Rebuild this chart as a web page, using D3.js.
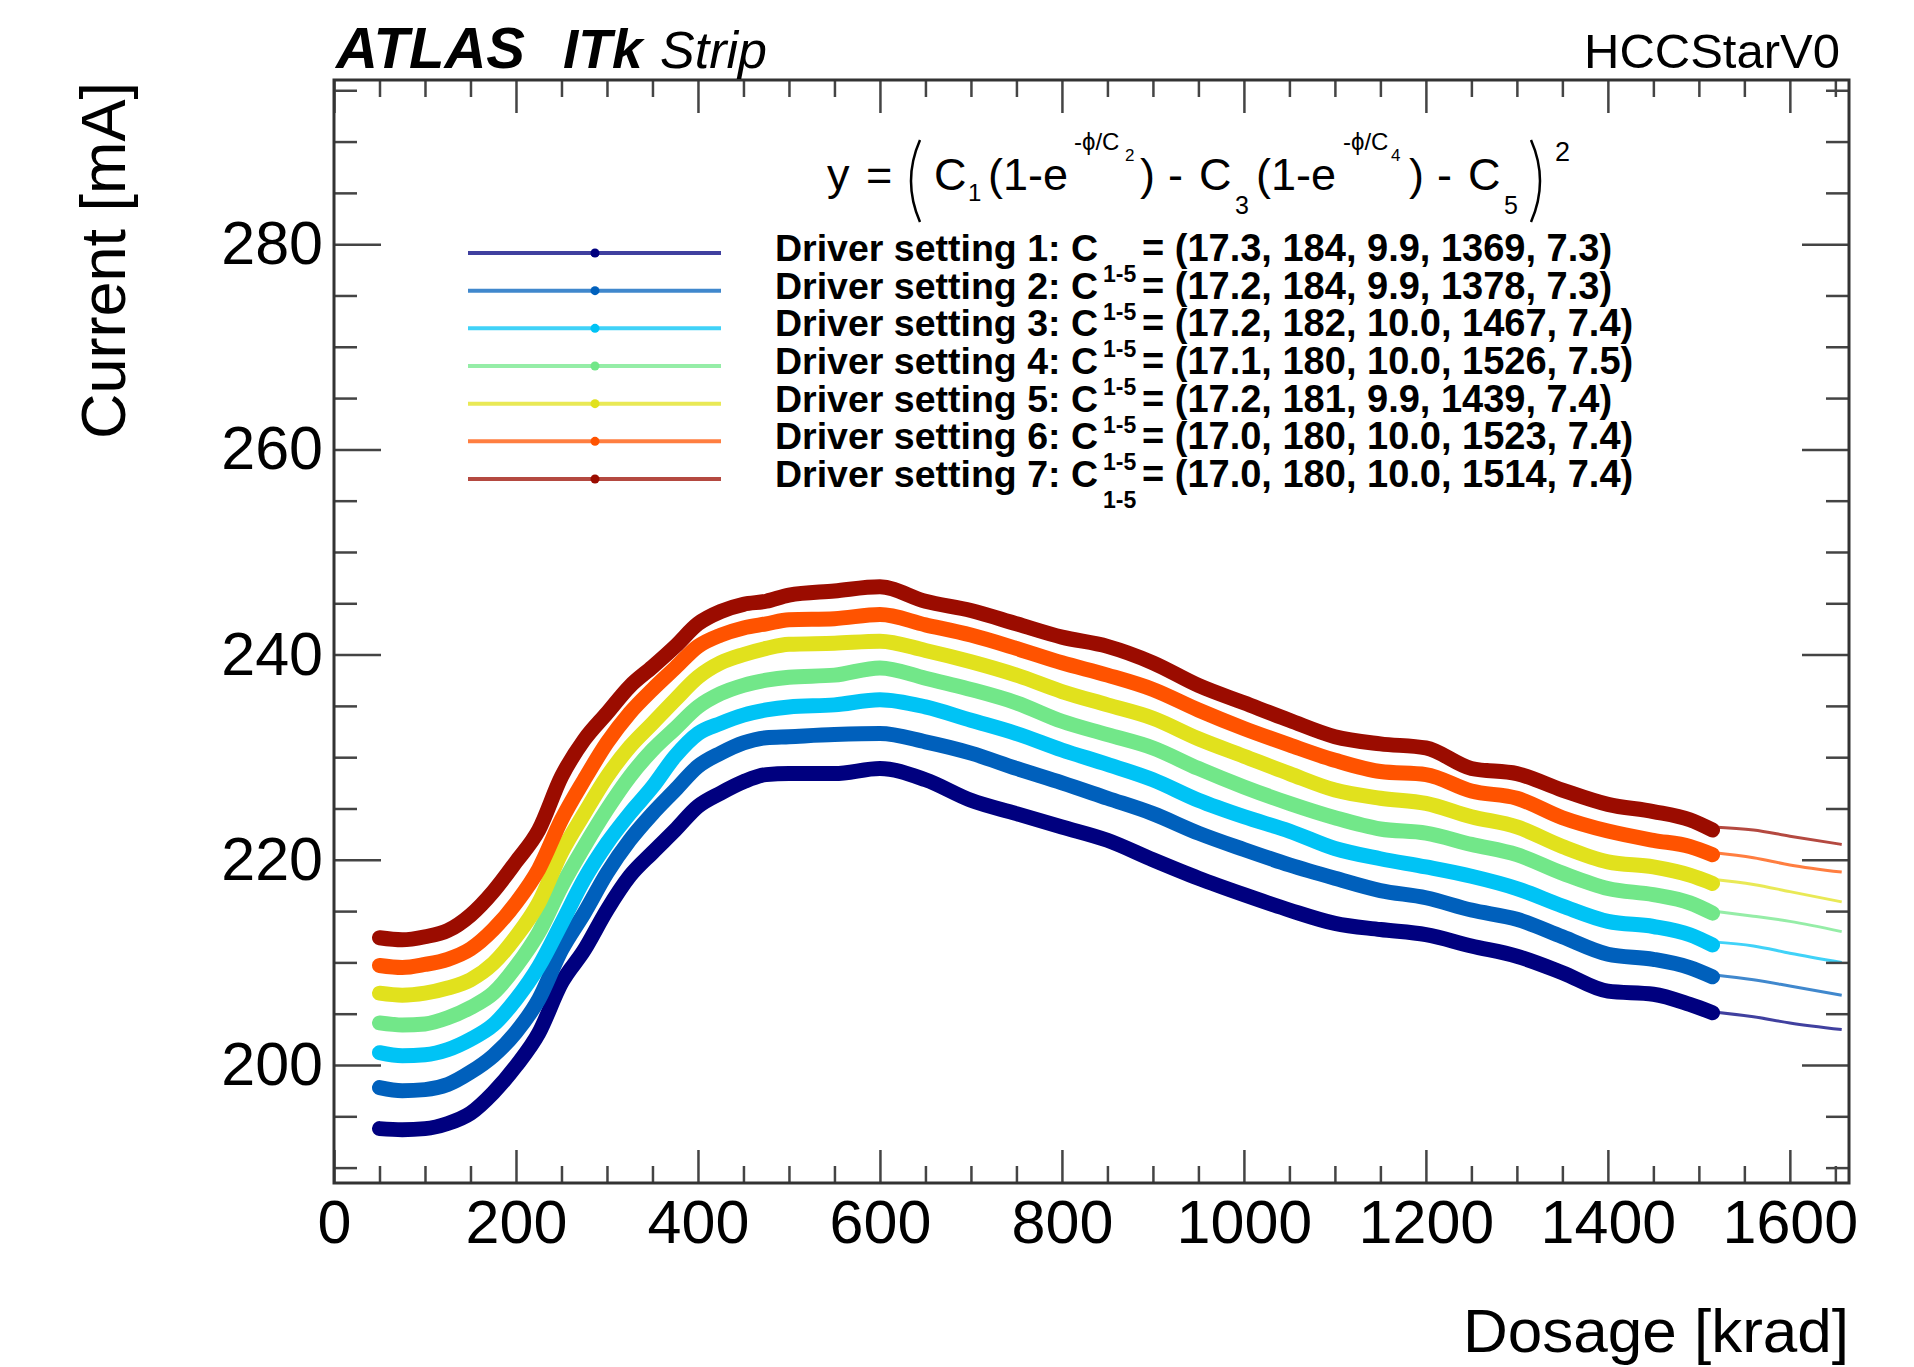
<!DOCTYPE html>
<html>
<head>
<meta charset="utf-8">
<script src="https://cdn.jsdelivr.net/npm/d3@7"></script>
<style>
    body { margin: 0; background: #fff; }
    text { font-family: "Liberation Sans", Arial, Helvetica, sans-serif; }
</style>
</head>
<body>
<div id="chart"></div>
<script>
const dose = [50, 75, 100, 125, 150, 175, 200, 225, 250, 275, 300, 325, 350, 375, 400, 425, 450, 475, 500,
    550, 600, 650, 700, 750, 800, 850, 900, 950, 1000, 1050, 1100, 1150, 1200, 1250, 1300, 1350, 1400, 1450,
    1490, 1515];

// Measured current [mA], one array per driver setting
const current1 = [193.8, 193.7, 193.8, 194.3, 195.3, 197.3, 199.9, 203.1, 208.0, 211.2, 215.1, 218.4, 220.7, 222.9, 225.2, 226.5, 227.6, 228.3, 228.4,
    228.4, 228.9, 227.8, 225.8, 224.5, 223.2, 221.9, 220.0, 218.2, 216.6, 215.1, 213.8, 213.2, 212.7, 211.6, 210.6, 209.0, 207.2, 206.9, 205.9, 205.1];
const current2 = [197.8, 197.5, 197.6, 198.1, 199.3, 200.9, 203.2, 206.4, 211.2, 214.8, 218.7, 221.9, 224.5, 226.8, 229.1, 230.4, 231.4, 231.9, 232.0,
    232.2, 232.3, 231.5, 230.4, 228.9, 227.5, 226.0, 224.5, 222.6, 221.0, 219.5, 218.2, 217.0, 216.3, 215.1, 214.2, 212.5, 210.8, 210.3, 209.5, 208.6];
const current3 = [201.2, 200.9, 201.0, 201.5, 202.5, 203.9, 206.4, 209.6, 213.8, 218.1, 221.6, 224.5, 227.1, 230.1, 232.3, 233.3, 234.1, 234.6, 234.9,
    235.1, 235.6, 234.9, 233.6, 232.3, 230.7, 229.3, 227.8, 225.8, 224.2, 222.8, 221.1, 220.1, 219.3, 218.4, 217.2, 215.5, 214.0, 213.5, 212.7, 211.7];
const current4 = [204.1, 203.9, 204.0, 204.6, 205.6, 207.0, 209.6, 212.9, 217.4, 221.3, 224.9, 228.1, 230.7, 232.8, 234.9, 236.2, 237.0, 237.5, 237.8,
    238.0, 238.7, 237.7, 236.6, 235.3, 233.5, 232.2, 230.9, 228.9, 227.1, 225.5, 224.1, 223.0, 222.6, 221.5, 220.5, 218.7, 217.2, 216.6, 215.8, 214.8];
const current5 = [207.0, 206.8, 207.0, 207.5, 208.3, 209.9, 212.5, 215.8, 220.7, 224.5, 228.1, 231.0, 233.3, 235.6, 237.8, 239.2, 240.0, 240.6, 241.0,
    241.1, 241.3, 240.4, 239.3, 238.0, 236.4, 235.1, 233.8, 231.8, 230.1, 228.4, 226.8, 226.0, 225.5, 224.2, 223.2, 221.3, 219.8, 219.3, 218.5, 217.7];
const current6 = [209.7, 209.5, 209.8, 210.3, 211.3, 213.2, 215.8, 219.1, 223.9, 227.8, 231.4, 234.3, 236.6, 238.7, 240.8, 241.9, 242.6, 243.0, 243.4,
    243.5, 243.9, 242.9, 241.9, 240.6, 239.2, 238.0, 236.6, 234.6, 232.8, 231.2, 229.7, 228.6, 228.3, 226.7, 226.0, 224.1, 222.8, 221.9, 221.3, 220.5];
const current7 = [212.4, 212.2, 212.5, 213.1, 214.6, 216.9, 219.8, 222.9, 228.1, 231.7, 234.3, 236.9, 238.8, 240.8, 243.0, 244.2, 244.9, 245.2, 245.8,
    246.2, 246.6, 245.2, 244.3, 243.0, 241.7, 240.8, 239.2, 237.0, 235.3, 233.6, 232.0, 231.3, 230.9, 228.9, 228.4, 226.8, 225.4, 224.7, 223.9, 222.9];

// Fit curves beyond the last measured point
const fitDose = [1515, 1560, 1600, 1657];
const fit1 = [205.2, 204.7, 204.1, 203.45];
const fit2 = [208.8, 208.3, 207.7, 206.8];
const fit3 = [212.0, 211.6, 210.9, 210.0];
const fit4 = [215.0, 214.5, 214.0, 213.0];
const fit5 = [218.1, 217.6, 216.9, 215.9];
const fit6 = [220.7, 220.2, 219.5, 218.8];
const fit7 = [223.2, 222.9, 222.3, 221.5];

// Fit parameters C1..C5 per driver setting
const settings = [1, 2, 3, 4, 5, 6, 7];
const c1 = [17.3, 17.2, 17.2, 17.1, 17.2, 17.0, 17.0];
const c2 = [184, 184, 182, 180, 181, 180, 180];
const c3 = [9.9, 9.9, 10.0, 10.0, 9.9, 10.0, 10.0];
const c4 = [1369, 1378, 1467, 1526, 1439, 1523, 1514];
const c5 = [7.3, 7.3, 7.4, 7.5, 7.4, 7.4, 7.4];

// Axis ticks
const xTicks = [0, 200, 400, 600, 800, 1000, 1200, 1400, 1600];
const xTickLabels = ["0", "200", "400", "600", "800", "1000", "1200", "1400", "1600"];
const yTicks = [200, 220, 240, 260, 280];
const yTickLabels = ["200", "220", "240", "260", "280"];

const colors = ["#00007f", "#0060bc", "#00c3f5", "#72e789", "#e1e11d", "#ff5300", "#9b0c00"];

const width = 1914, height = 1367;
const frame = { left: 334, right: 1849, top: 80, bottom: 1183 };

const currents = [current1, current2, current3, current4, current5, current6, current7];
const fits = [fit1, fit2, fit3, fit4, fit5, fit6, fit7];
const series = settings.map(function (s, i) {
    return { setting: s, values: currents[i], fit: fits[i], color: colors[i] };
});

const svg = d3.select("#chart")
    .append("svg")
    .attr("width", width)
    .attr("height", height);

svg.append("rect").attr("width", width).attr("height", height).attr("fill", "#fff");

// Scales
const xScale = d3.scaleLinear().domain([0, 1665]).range([frame.left, frame.right]);
const yScale = d3.scaleLinear().domain([188.5, 296]).range([frame.bottom, frame.top]);

svg.append("clipPath").attr("id", "plotClip")
    .append("rect")
    .attr("x", frame.left).attr("y", frame.top)
    .attr("width", frame.right - frame.left).attr("height", frame.bottom - frame.top);

const plot = svg.append("g").attr("clip-path", "url(#plotClip)");

// Measured bands (dense markers)
const bandLine = d3.line()
    .x(function (v, i) { return xScale(dose[i]); })
    .y(function (v) { return yScale(v); })
    .curve(d3.curveMonotoneX);

plot.selectAll("path.band")
    .data(series)
    .join("path")
    .attr("class", "band")
    .attr("fill", "none")
    .attr("stroke", d => d.color)
    .attr("stroke-width", 15)
    .attr("stroke-linecap", "round")
    .attr("stroke-linejoin", "round")
    .attr("d", d => bandLine(d.values));

// Fit extrapolation
const fitLine = d3.line()
    .x(function (v, i) { return xScale(fitDose[i]); })
    .y(function (v) { return yScale(v); })
    .curve(d3.curveMonotoneX);

plot.selectAll("path.fit")
    .data(series)
    .join("path")
    .attr("class", "fit")
    .attr("fill", "none")
    .attr("stroke", d => d.color)
    .attr("stroke-opacity", 0.75)
    .attr("stroke-width", 3)
    .attr("d", d => fitLine(d.fit));

// Axes: ROOT style ticks on all four sides, pointing inwards
const tickColor = "#444";
function styleAxis(g, fontSize) {
    g.select(".domain").remove();
    g.selectAll(".tick line").attr("stroke", tickColor).attr("stroke-width", 2.5);
    g.attr("font-size", fontSize).attr("font-family", "'Liberation Sans', Arial, Helvetica, sans-serif");
    g.selectAll(".tick text").attr("fill", "#000");
}

const xMinor = d3.range(50, 1665, 50).filter(v => v % 200 !== 0);
const yMinor = d3.range(190, 296, 5).filter(v => v % 20 !== 0);

svg.append("g")
    .attr("transform", `translate(0,${frame.bottom})`)
    .call(d3.axisBottom(xScale).tickValues(xTicks).tickSizeInner(-33).tickSizeOuter(0).tickPadding(17)
        .tickFormat((d, i) => xTickLabels[i]))
    .call(g => styleAxis(g, 61));
svg.append("g")
    .attr("transform", `translate(0,${frame.bottom})`)
    .call(d3.axisBottom(xScale).tickValues(xMinor).tickSizeInner(-17).tickSizeOuter(0).tickFormat(""))
    .call(g => styleAxis(g, 10));
svg.append("g")
    .attr("transform", `translate(0,${frame.top})`)
    .call(d3.axisTop(xScale).tickValues(xTicks).tickSizeInner(-33).tickSizeOuter(0).tickFormat(""))
    .call(g => styleAxis(g, 10));
svg.append("g")
    .attr("transform", `translate(0,${frame.top})`)
    .call(d3.axisTop(xScale).tickValues(xMinor).tickSizeInner(-17).tickSizeOuter(0).tickFormat(""))
    .call(g => styleAxis(g, 10));

svg.append("g")
    .attr("transform", `translate(${frame.left},0)`)
    .call(d3.axisLeft(yScale).tickValues(yTicks).tickSizeInner(-47).tickSizeOuter(0).tickPadding(11)
        .tickFormat((d, i) => yTickLabels[i]))
    .call(g => styleAxis(g, 61));
svg.append("g")
    .attr("transform", `translate(${frame.left},0)`)
    .call(d3.axisLeft(yScale).tickValues(yMinor).tickSizeInner(-23).tickSizeOuter(0).tickFormat(""))
    .call(g => styleAxis(g, 10));
svg.append("g")
    .attr("transform", `translate(${frame.right},0)`)
    .call(d3.axisRight(yScale).tickValues(yTicks).tickSizeInner(-47).tickSizeOuter(0).tickFormat(""))
    .call(g => styleAxis(g, 10));
svg.append("g")
    .attr("transform", `translate(${frame.right},0)`)
    .call(d3.axisRight(yScale).tickValues(yMinor).tickSizeInner(-23).tickSizeOuter(0).tickFormat(""))
    .call(g => styleAxis(g, 10));

// Frame
svg.append("rect")
    .attr("x", frame.left).attr("y", frame.top)
    .attr("width", frame.right - frame.left).attr("height", frame.bottom - frame.top)
    .attr("fill", "none")
    .attr("stroke", "#333")
    .attr("stroke-width", 3);

// Axis titles
svg.append("text")
    .attr("x", frame.right).attr("y", 1352)
    .attr("text-anchor", "end")
    .attr("font-size", 62)
    .text("Dosage [krad]");

svg.append("text")
    .attr("transform", `translate(125,${frame.top + 2}) rotate(-90)`)
    .attr("text-anchor", "end")
    .attr("font-size", 63)
    .text("Current [mA]");

// Header
svg.append("text").attr("x", 336).attr("y", 68).attr("font-size", 58)
    .attr("font-weight", "bold").attr("font-style", "italic").text("ATLAS");
svg.append("text").attr("x", 563).attr("y", 68).attr("font-size", 55)
    .attr("font-weight", "bold").attr("font-style", "italic").text("ITk");
svg.append("text").attr("x", 660).attr("y", 68).attr("font-size", 52)
    .attr("font-style", "italic").text("Strip");
svg.append("text").attr("x", 1840).attr("y", 68).attr("font-size", 49)
    .attr("text-anchor", "end").text("HCCStarV0");

// Fit formula
const formula = svg.append("g").attr("fill", "#000");
const pieces = [
    ["y", 827, 190, 45], ["=", 866, 190, 45],
    ["C", 934, 190, 45], ["1", 968, 201, 24], ["(1-e", 988, 190, 45],
    ["-\u03D5/C", 1074, 150, 24], ["2", 1125, 161, 17], [")", 1140, 190, 45],
    ["-", 1168, 190, 45],
    ["C", 1199, 190, 45], ["3", 1235, 214, 25], ["(1-e", 1256, 190, 45],
    ["-\u03D5/C", 1343, 150, 24], ["4", 1391, 161, 17], [")", 1409, 190, 45],
    ["-", 1437, 190, 45],
    ["C", 1468, 190, 45], ["5", 1504, 214, 25],
    ["2", 1555, 161, 27]
];
formula.selectAll("text")
    .data(pieces)
    .join("text")
    .attr("x", d => d[1]).attr("y", d => d[2])
    .attr("font-size", d => d[3])
    .text(d => d[0]);
// big brackets
formula.append("path")
    .attr("d", "M920,140 Q902,181 920,222")
    .attr("fill", "none").attr("stroke", "#000").attr("stroke-width", 2.5);
formula.append("path")
    .attr("d", "M1531,140 Q1549,181 1531,222")
    .attr("fill", "none").attr("stroke", "#000").attr("stroke-width", 2.5);

// Legend
const legendTop = 253, legendStep = 37.67;
const legend = svg.append("g")
    .selectAll("g")
    .data(series)
    .join("g")
    .attr("transform", (d, i) => `translate(0,${legendTop + i * legendStep})`);

legend.append("line")
    .attr("x1", 468).attr("x2", 721)
    .attr("stroke", d => d.color)
    .attr("stroke-opacity", 0.75)
    .attr("stroke-width", 4);
legend.append("circle")
    .attr("cx", 595).attr("r", 4.5)
    .attr("fill", d => d.color);
legend.append("text")
    .attr("x", 775).attr("y", 8)
    .attr("font-size", 37.5).attr("font-weight", "bold")
    .text(d => `Driver setting ${d.setting}: C`);
legend.append("text")
    .attr("x", 1103).attr("y", 29)
    .attr("font-size", 23).attr("font-weight", "bold")
    .text("1-5");
legend.append("text")
    .attr("x", 1142).attr("y", 8)
    .attr("font-size", 38).attr("font-weight", "bold")
    .text((d, i) => `= (${c1[i].toFixed(1)}, ${c2[i]}, ${c3[i].toFixed(1)}, ${c4[i]}, ${c5[i].toFixed(1)})`);
</script>
</body>
</html>
